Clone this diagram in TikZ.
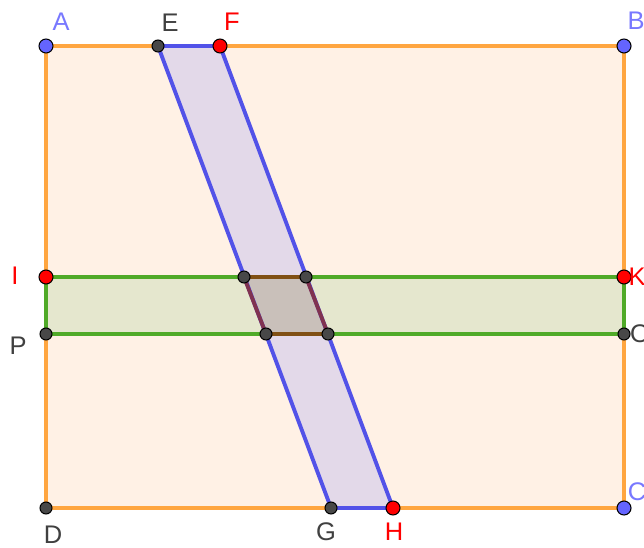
\documentclass[tikz,border=0pt]{standalone}
\usepackage{fontspec}
\setmainfont{Liberation Sans}
\definecolor{orng}{RGB}{255,166,64}
\definecolor{orngfill}{RGB}{255,241,229}
\definecolor{grn}{RGB}{80,170,40}
\definecolor{grnfill}{RGB}{229,231,206}
\definecolor{blu}{RGB}{82,82,232}
\definecolor{blufill}{RGB}{227,217,233}
\definecolor{smfill}{RGB}{201,192,186}
\definecolor{brwn}{RGB}{128,80,20}
\definecolor{mrn}{RGB}{128,50,80}
\definecolor{ptblue}{RGB}{100,100,255}
\definecolor{ptred}{RGB}{255,0,0}
\definecolor{ptgray}{RGB}{72,72,72}
\definecolor{lblblue}{RGB}{120,120,255}
\definecolor{lblgray}{RGB}{64,64,64}
\begin{document}
\begin{tikzpicture}[x=0.02cm,y=-0.02cm,
  pt/.style={circle,draw=black,line width=0.6pt,inner sep=0pt,minimum size=14*0.02cm},
  ptsm/.style={circle,draw=black,line width=0.6pt,inner sep=0pt,minimum size=12*0.02cm,fill=ptgray},
  lbl/.style={font=\fontsize{14.5}{15}\selectfont,inner sep=0pt}]
\useasboundingbox (0,0) rectangle (644,547);
\fill[white] (0,0) rectangle (644,547);
% coordinates
\coordinate (A) at (46,46);
\coordinate (B) at (624,46);
\coordinate (C) at (624,508);
\coordinate (D) at (46,508);
\coordinate (E) at (158,46);
\coordinate (F) at (220,46);
\coordinate (G) at (331,508);
\coordinate (H) at (393,508);
\coordinate (I) at (46,277);
\coordinate (K) at (624,277);
\coordinate (P) at (46,334);
\coordinate (O) at (624,334);
\coordinate (Q1) at (244,277);
\coordinate (Q2) at (306,277);
\coordinate (Q3) at (328,334);
\coordinate (Q4) at (266,334);
% fills
\fill[orngfill] (A) -- (B) -- (C) -- (D) -- cycle;
\fill[grnfill] (I) -- (K) -- (O) -- (P) -- cycle;
\fill[blufill] (E) -- (F) -- (H) -- (G) -- cycle;
\fill[smfill] (Q1) -- (Q2) -- (Q3) -- (Q4) -- cycle;
% lines
\draw[orng,line width=2.2pt] (A) -- (B) -- (C) -- (D) -- cycle;
\draw[grn,line width=2.2pt] (I) -- (K) -- (O) -- (P) -- cycle;
\draw[blu,line width=2.2pt] (E) -- (F) -- (H) -- (G) -- cycle;
\draw[brwn,line width=2.2pt] (Q1) -- (Q2);
\draw[brwn,line width=2.2pt] (Q4) -- (Q3);
\draw[mrn,line width=2.2pt] (Q1) -- (Q4);
\draw[mrn,line width=2.2pt] (Q2) -- (Q3);
% points
\node[pt,fill=ptblue] at (A) {};
\node[pt,fill=ptblue] at (B) {};
\node[pt,fill=ptblue] at (C) {};
\node[ptsm] at (D) {};
\node[ptsm] at (E) {};
\node[pt,fill=ptred] at (F) {};
\node[ptsm] at (G) {};
\node[pt,fill=ptred] at (H) {};
\node[pt,fill=ptred] at (I) {};
\node[pt,fill=ptred] at (K) {};
\node[ptsm] at (P) {};
\node[ptsm] at (O) {};
\node[ptsm] at (Q1) {};
\node[ptsm] at (Q2) {};
\node[ptsm] at (Q3) {};
\node[ptsm] at (Q4) {};
% labels
\node[lbl,text=lblblue] (lA) at (61,22) {A};
\node[lbl,text=lblblue] (lB) at (636,21) {B};
\node[lbl,text=lblblue] (lC) at (637,492) {C};
\node[lbl,text=lblgray] (lD) at (53,535) {D};
\node[lbl,text=lblgray] (lE) at (170,23) {E};
\node[lbl,text=ptred] (lF) at (232,22) {F};
\node[lbl,text=lblgray] (lG) at (326,532) {G};
\node[lbl,text=ptred] (lH) at (394,532) {H};
\node[lbl,text=ptred] (lI) at (15,276) {I};
\node[lbl,text=ptred] (lK) at (637,277) {K};
\node[lbl,text=lblgray] (lP) at (18,346) {P};
\node[lbl,text=lblgray] (lO) at (640,334) {O};
\end{tikzpicture}
\end{document}
